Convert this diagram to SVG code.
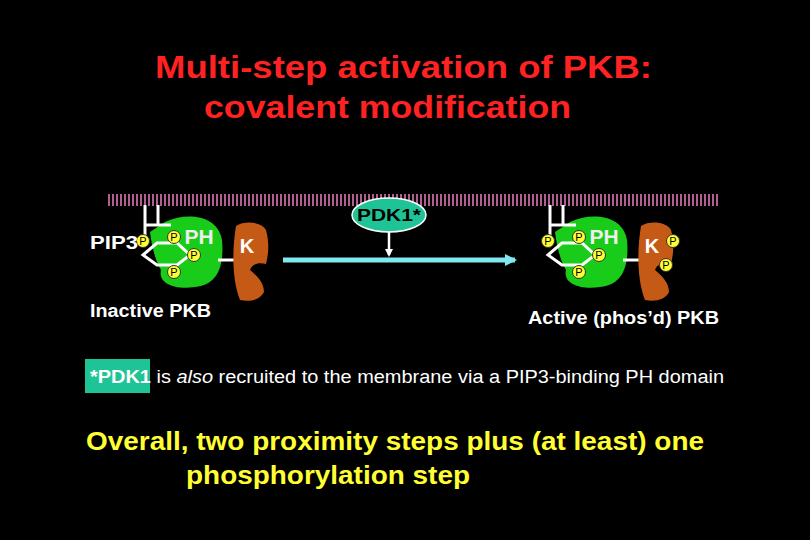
<svg xmlns="http://www.w3.org/2000/svg" width="810" height="540" viewBox="0 0 810 540">
<defs>
<pattern id="stripe" width="4" height="12" patternUnits="userSpaceOnUse"><rect width="2" height="12" fill="#b0608f"/></pattern>
<marker id="ah" markerWidth="8" markerHeight="8" refX="6" refY="4" orient="auto" markerUnits="userSpaceOnUse"><path d="M0,0 L8,4 L0,8 Z" fill="#fff"/></marker>
<marker id="ahc" markerWidth="12" markerHeight="12" refX="10" refY="6" orient="auto" markerUnits="userSpaceOnUse"><path d="M0,0 L12,6 L0,12 Z" fill="#7fe8f0"/></marker>
<g id="pkb">
<path d="M150,232 L165,222 C185,212 218,214 222,240 C224,262 220,285 195,287 C172,290 158,282 161,270 C156,262 152,248 150,232 Z" fill="#19cc19"/>
<line x1="218" y1="260" x2="236" y2="260" stroke="#fff" stroke-width="3"/>
<path d="M236,226 C245,220 262,222 266,230 C270,245 268,255 266,264 C258,262 252,264 250,270 C256,275 264,282 264,292 C260,300 250,302 240,300 C232,280 232,250 236,226 Z" fill="#c55a16"/>
<text x="247" y="253" class="k">K</text>
<polyline points="145,205 145,243" class="stick"/>
<polyline points="158,205 158,225" class="stick"/>
<polyline points="145,225 171,225" class="stick"/>
<polygon points="143,255 157,243 177,243 190,255 177,265 157,265" class="stick"/>
<circle cx="143" cy="241" r="6.5" class="p"/><text x="143" y="245" class="pt">P</text>
<circle cx="174" cy="237" r="6.5" class="p"/><text x="174" y="241" class="pt">P</text>
<circle cx="194" cy="255" r="6.5" class="p"/><text x="194" y="259" class="pt">P</text>
<circle cx="174" cy="272" r="6.5" class="p"/><text x="174" y="276" class="pt">P</text>
<text x="199" y="244" class="ph">PH</text>
</g>
</defs>
<style>
.stick{fill:none;stroke:#fff;stroke-width:3}
.p{fill:#ffff33;stroke:#333;stroke-width:1}
.pt{font-family:"Liberation Sans",Arial,sans-serif;font-size:11px;fill:#000;text-anchor:middle}
.ph{font-family:"Liberation Sans",Arial,sans-serif;font-size:21px;font-weight:bold;fill:#eee;text-anchor:middle}
.k{font-family:"Liberation Sans",Arial,sans-serif;font-size:20px;font-weight:bold;fill:#fff;text-anchor:middle}
.w{font-family:"Liberation Sans",Arial,sans-serif;fill:#fff}
</style>
<rect width="810" height="540" fill="#000"/>
<g id="title" font-family="Liberation Sans, Arial, sans-serif" font-weight="bold" font-size="32" fill="#ff2222">
<text x="155" y="78" textLength="497" lengthAdjust="spacingAndGlyphs">Multi-step activation of PKB:</text>
<text x="204" y="118" textLength="367" lengthAdjust="spacingAndGlyphs">covalent modification</text>
</g>
<rect id="membrane" x="108" y="194" width="612" height="12" fill="url(#stripe)"/>
<g id="inactive"><use href="#pkb"/>
<text x="90" y="249" class="w" font-size="18" font-weight="bold" textLength="48" lengthAdjust="spacingAndGlyphs">PIP3</text>
<text x="90" y="317" class="w" font-size="18" font-weight="bold" textLength="121" lengthAdjust="spacingAndGlyphs">Inactive PKB</text></g>
<g id="active"><use href="#pkb" transform="translate(405,0)"/>
<circle cx="673" cy="241" r="6.5" class="p"/><text x="673" y="245" class="pt">P</text>
<circle cx="666" cy="265" r="6.5" class="p"/><text x="666" y="269" class="pt">P</text>
<text x="528" y="324" class="w" font-size="18" font-weight="bold" textLength="191" lengthAdjust="spacingAndGlyphs">Active (phos’d) PKB</text></g>
<g id="connectors">
<line x1="283" y1="260" x2="515" y2="260" stroke="#7fe8f0" stroke-width="5" marker-end="url(#ahc)"/>
<line x1="389" y1="232" x2="389" y2="255" stroke="#fff" stroke-width="2.5" marker-end="url(#ah)"/>
</g>
<g id="pdk1"><ellipse cx="389" cy="215" rx="37" ry="17" fill="#1fc496" stroke="#fff" stroke-width="1.5"/>
<text x="389" y="221" font-family="Liberation Sans, Arial, sans-serif" font-size="17" font-weight="bold" text-anchor="middle" fill="#000" textLength="64" lengthAdjust="spacingAndGlyphs">PDK1*</text></g>
<g id="note">
<rect x="85" y="359" width="65" height="34" fill="#1fc496"/>
<text x="90" y="383" class="w" font-size="18" textLength="634" lengthAdjust="spacingAndGlyphs"><tspan font-weight="bold">*PDK1</tspan> is <tspan font-style="italic">also</tspan> recruited to the membrane via a PIP3-binding PH domain</text>
</g>
<g id="summary" font-family="Liberation Sans, Arial, sans-serif" font-weight="bold" font-size="26" fill="#ffff33">
<text x="86" y="450" textLength="618" lengthAdjust="spacingAndGlyphs">Overall, two proximity steps plus (at least) one</text>
<text x="186" y="484" textLength="284" lengthAdjust="spacingAndGlyphs">phosphorylation step</text>
</g>
</svg>
